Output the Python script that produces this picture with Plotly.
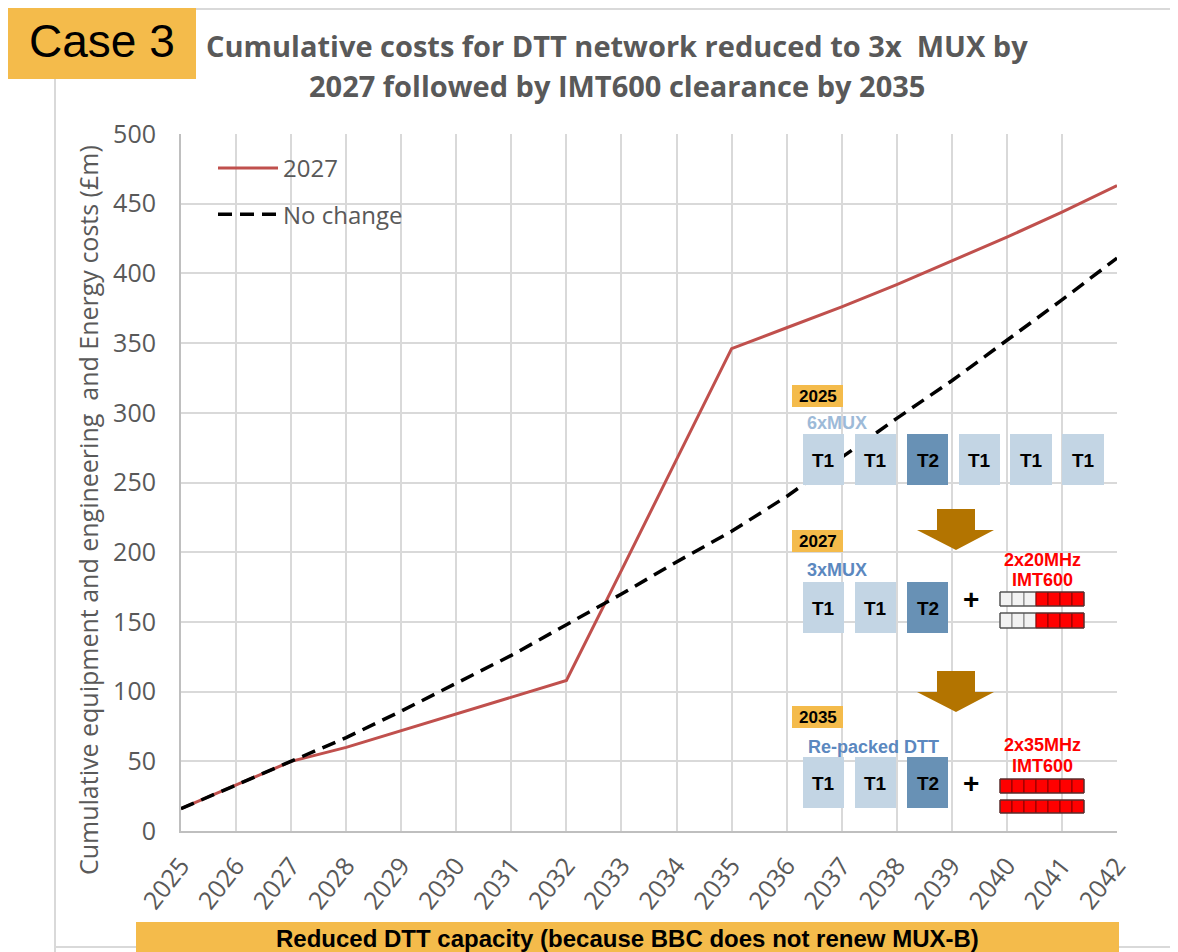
import plotly.graph_objects as go

# ---------------- data ----------------
years = list(range(2025, 2043))
year_labels = [str(y) for y in years]
cost_2027 = [16, 33, 50, 60, 72, 84, 96, 108, 187, 266, 346, 361, 376, 392, 409, 426, 444, 463]
cost_no_change = [16, 33, 50, 67, 86, 106, 126, 148, 170, 193, 215, 240, 268, 296, 323, 352, 381, 411]
y_ticks = [0, 50, 100, 150, 200, 250, 300, 350, 400, 450, 500]

# ---------------- geometry helpers (screen pixel -> paper) ----------------
OFF = 8                      # page body margin
W, H = 1178 - OFF, 952 - OFF
PL, PR, PT, PB = 181, 1117, 134, 831      # plot area in screen pixels
L, T = PL - OFF, PT - OFF
R, B = W - (PR - OFF), H - (PB - OFF)
PW, PH = PR - PL, PB - PT


def X(px):
    return (px - PL) / PW


def Y(py):
    return (PB - py) / PH


fig = go.Figure()
fig.add_trace(go.Scatter(x=years, y=cost_2027, mode="lines", name="2027",
                         line=dict(color="#C0504D", width=3), legendgroup="a"))
fig.add_trace(go.Scatter(x=years, y=cost_no_change, mode="lines", name="No change",
                         line=dict(color="#000000", width=3.5, dash="14px,8px"), legendgroup="b"))

shapes = []
annotations = []

GRAY_TXT = "#595959"
ORANGE = "#F4BB4B"
LIGHT = "#C3D5E4"
DARK = "#6891B5"
ARROW = "#B37400"


def rect(x0, y0, x1, y1, fill, line_color=None, lw=0, layer="above"):
    shapes.append(dict(type="rect", xref="paper", yref="paper",
                       x0=X(x0), x1=X(x1), y0=Y(y1), y1=Y(y0),
                       fillcolor=fill, layer=layer,
                       line=dict(color=line_color or fill, width=lw)))


def text(px, py, s, size, color, family="Liberation Sans", bold=True, xanchor="center", angle=0):
    annotations.append(dict(xref="paper", yref="paper", x=X(px), y=Y(py), text=(f"<b>{s}</b>" if bold else s),
                            showarrow=False, xanchor=xanchor, yanchor="middle", textangle=angle,
                            font=dict(family=family, size=size, color=color)))


# frame lines of the slide
shapes.append(dict(type="line", xref="paper", yref="paper", x0=X(196), x1=X(1178), y0=Y(9), y1=Y(9),
                   line=dict(color="#D9D9D9", width=2), layer="above"))
shapes.append(dict(type="line", xref="paper", yref="paper", x0=X(55), x1=X(55), y0=Y(78), y1=Y(952),
                   line=dict(color="#D9D9D9", width=2), layer="above"))
shapes.append(dict(type="line", xref="paper", yref="paper", x0=X(55), x1=X(1178), y0=Y(947), y1=Y(947),
                   line=dict(color="#D9D9D9", width=2), layer="above"))

# Case 3 box
rect(4, 0, 196, 79, ORANGE)
text(102, 41, "Case 3", 46, "#000000", family="Liberation Sans", bold=False)

# Title
text(617, 45, "Cumulative costs for DTT network reduced to 3x  MUX by", 29, GRAY_TXT, family="Open Sans")
text(617, 85, "2027 followed by IMT600 clearance by 2035", 29, GRAY_TXT, family="Open Sans")

# Y axis title (placed as in the reference, slightly below the plot centre)
text(88, 510, "Cumulative equipment and engineering  and Energy costs (£m)", 25, GRAY_TXT,
     family="Open Sans", bold=False, angle=-90)

# Bottom banner
rect(136, 922, 1119, 1000, ORANGE)
text(627, 938, "Reduced DTT capacity (because BBC does not renew MUX-B)", 24, "#000000")

# ---------------- inset diagram ----------------
box_x = [(803, 844), (855, 896), (907, 948), (959, 1000), (1010, 1052), (1062, 1104)]
box_lbl = ["T1", "T1", "T2", "T1", "T1", "T1"]


def year_tag(py0, label):
    rect(792, py0, 843, py0 + 22, ORANGE)
    text(817.5, py0 + 11.5, label, 17, "#000000")


def boxes(py0, py1, n):
    for i in range(n):
        x0, x1 = box_x[i]
        rect(x0, py0, x1, py1, DARK if box_lbl[i] == "T2" else LIGHT)
        text((x0 + x1) / 2, (py0 + py1) / 2 + 1, box_lbl[i], 19, "#000000")


def arrow(tip_y):
    pts = [(937, tip_y - 41), (975, tip_y - 41), (975, tip_y - 20), (994, tip_y - 20),
           (956, tip_y), (917, tip_y - 20), (937, tip_y - 20)]
    path = "M " + " L ".join(f"{X(a):.5f},{Y(b):.5f}" for a, b in pts) + " Z"
    shapes.append(dict(type="path", xref="paper", yref="paper", path=path,
                       fillcolor=ARROW, line=dict(color=ARROW, width=0), layer="above"))


def imt_bar(py0, py1, n_gray):
    cw = 12
    for i in range(7):
        x0 = 1000 + i * cw
        if i < n_gray:
            rect(x0, py0, x0 + cw, py1, "#F2F2F2", "#7F7F7F", 1)
        else:
            rect(x0, py0, x0 + cw, py1, "#FF0000", "#8B0000", 1)
    shapes.append(dict(type="rect", xref="paper", yref="paper", x0=X(1000), x1=X(1084),
                       y0=Y(py1), y1=Y(py0), line=dict(color="#404040", width=1), layer="above"))


# 2025
year_tag(385, "2025")
text(805, 423, "6xMUX", 18, "#9DBAD8", xanchor="left")
boxes(434, 485, 6)
arrow(550)

# 2027
year_tag(530, "2027")
text(805, 570, "3xMUX", 18, "#5B88BF", xanchor="left")
boxes(582, 633, 3)
text(971, 599, "+", 28, "#000000")
text(1042, 560, "2x20MHz", 18, "#FF0000")
text(1042, 580, "IMT600", 18, "#FF0000")
imt_bar(592, 606, 3)
imt_bar(613, 628, 3)
arrow(712)

# 2035
year_tag(706, "2035")
text(806, 747, "Re-packed DTT", 18, "#5B88BF", xanchor="left")
boxes(757, 808, 3)
text(971, 783, "+", 28, "#000000")
text(1042, 745, "2x35MHz", 18, "#FF0000")
text(1042, 766, "IMT600", 18, "#FF0000")
imt_bar(779, 793, 0)
imt_bar(800, 813, 0)

fig.update_layout(
    width=W, height=H,
    margin=dict(l=L, r=R, t=T, b=B, autoexpand=False),
    paper_bgcolor="white", plot_bgcolor="white",
    shapes=shapes, annotations=annotations,
    showlegend=True,
    legend=dict(x=X(213), y=Y(146), xanchor="left", yanchor="top",
                font=dict(family="Open Sans", size=24, color=GRAY_TXT),
                bgcolor="rgba(0,0,0,0)", tracegroupgap=12, traceorder="grouped",
                itemwidth=60),
    xaxis=dict(range=[2025, 2042], tickmode="array", tickvals=years, ticktext=year_labels,
               tickangle=-52, showgrid=True, gridcolor="#D9D9D9", gridwidth=2,
               showline=True, linecolor="#BFBFBF", linewidth=2, zeroline=False,
               ticks="", ticklabelstandoff=8,
               tickfont=dict(family="Open Sans", size=25, color=GRAY_TXT)),
    yaxis=dict(range=[0, 500], tickmode="array", tickvals=y_ticks,
               showgrid=True, gridcolor="#D9D9D9", gridwidth=2,
               showline=True, linecolor="#BFBFBF", linewidth=2, zeroline=False,
               ticks="", ticklabelstandoff=18,
               tickfont=dict(family="Open Sans", size=25, color=GRAY_TXT)),
)

fig.write_html("out.html")
